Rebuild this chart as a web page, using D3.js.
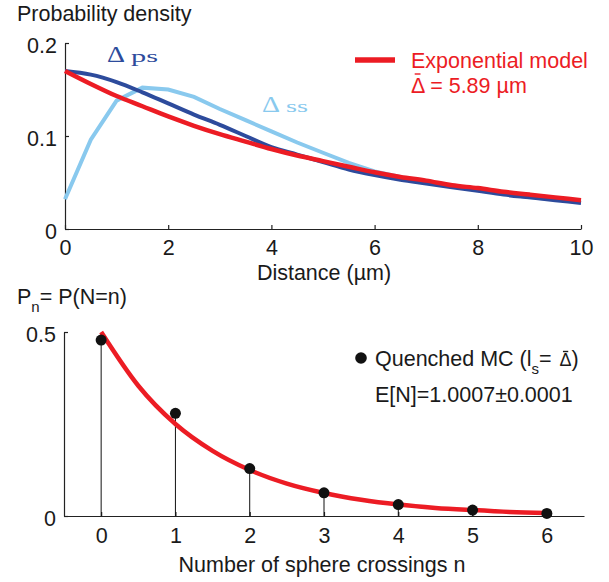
<!DOCTYPE html>
<html>
<head>
<meta charset="utf-8">
<script src="https://cdn.jsdelivr.net/npm/d3@7"></script>
<style>
  body { margin: 0; background: #fff; }
  text { font-family: "Liberation Sans", Arial, sans-serif; fill: #1a1a1a; }
</style>
</head>
<body>
<div id="chart"></div>
<script>

// top panel data
const distance = [0, 0.5, 1, 1.5, 2, 2.5, 3, 3.5, 4, 4.5, 5, 5.5, 6, 6.5, 7, 7.5, 8, 8.5, 9, 9.5, 10];
const psDensity = [0.170, 0.166, 0.158, 0.147, 0.135, 0.123, 0.112, 0.100, 0.088, 0.080, 0.072, 0.064, 0.058, 0.053, 0.049, 0.045, 0.041, 0.037, 0.034, 0.031, 0.028];
const ssDensity = [0.032, 0.096, 0.138, 0.152, 0.150, 0.142, 0.129, 0.117, 0.105, 0.093, 0.082, 0.071, 0.062, 0.056, 0.050, 0.046, 0.042, 0.038, 0.034, 0.032, 0.029];
const expDensity = [0.170, 0.156, 0.143, 0.132, 0.121, 0.111, 0.102, 0.094, 0.086, 0.079, 0.073, 0.067, 0.061, 0.056, 0.052, 0.047, 0.044, 0.040, 0.037, 0.034, 0.031];
const distTicks = [0, 2, 4, 6, 8, 10];
const densTicks = [0, 0.1, 0.2];

// bottom panel data
const crossings = [0, 1, 2, 3, 4, 5, 6];
const mcProb = [0.478, 0.279, 0.129, 0.063, 0.031, 0.016, 0.007];
const modelN = [0, 0.5, 1, 1.5, 2, 2.5, 3, 3.5, 4, 4.5, 5, 5.5, 6];
const modelP = [0.5, 0.354, 0.25, 0.177, 0.125, 0.088, 0.0625, 0.044, 0.031, 0.022, 0.016, 0.011, 0.008];
const probTicks = [0, 0.5];

const red = '#ec1c24', darkBlue = '#2d4b9c', lightBlue = '#89c9ee';
const fs = 21.5;

let svg = d3.select('#chart').append('svg')
    .attr('width', 609)
    .attr('height', 582);

// little bar over a character (the Delta with a bar)
function barOver(textSel, idx, barY, col) {
    let b = textSel.node().getExtentOfChar(idx);
    svg.append('line')
        .attr('x1', b.x + b.width * 0.28).attr('x2', b.x + b.width * 0.72)
        .attr('y1', barY).attr('y2', barY)
        .attr('stroke', col).attr('stroke-width', 1.4);
}

// ---- top panel ----
let x1 = d3.scaleLinear().domain([0, 10]).range([65, 581]);
let y1 = d3.scaleLinear().domain([0, 0.2]).range([229, 43]);

let topPanel = svg.append('g');

let xAx1 = topPanel.append('g')
    .attr('transform', `translate(0,${y1(0)})`)
    .call(d3.axisBottom(x1).tickValues(distTicks).tickFormat(d3.format('d'))
        .tickSizeInner(-4).tickSizeOuter(0).tickPadding(11));
let yAx1 = topPanel.append('g')
    .attr('transform', `translate(${x1(0)},0)`)
    .call(d3.axisLeft(y1).tickValues(densTicks).tickFormat(d => d === 0 ? '0' : d3.format('.1f')(d))
        .tickSizeInner(-4).tickSizeOuter(0).tickPadding(8));

[xAx1, yAx1].forEach(a => {
    a.selectAll('path, line').attr('stroke', '#222').attr('stroke-width', 1.2);
    a.selectAll('text').style('font-size', fs + 'px').attr('fill', '#1a1a1a');
});
yAx1.selectAll('text').attr('dy', '0.45em');

let line1 = (ys, curve) => d3.line()
    .curve(curve)
    .x((d, i) => x1(distance[i]))
    .y(d => y1(d))(ys);

topPanel.append('path').attr('d', line1(ssDensity, d3.curveLinear))
    .attr('fill', 'none').attr('stroke', lightBlue).attr('stroke-width', 4);
topPanel.append('path').attr('d', line1(psDensity, d3.curveMonotoneX))
    .attr('fill', 'none').attr('stroke', darkBlue).attr('stroke-width', 4);
topPanel.append('path').attr('d', line1(expDensity, d3.curveMonotoneX))
    .attr('fill', 'none').attr('stroke', red).attr('stroke-width', 4.5);

topPanel.append('text').attr('x', 17).attr('y', 21).style('font-size', fs + 'px').text('Probability density');
topPanel.append('text').attr('x', 324).attr('y', 280).attr('text-anchor', 'middle')
    .style('font-size', fs + 'px').text('Distance (\u00b5m)');

// curve labels (wide serif, like the original)
let lab = (x, y, sub, subW, col) => {
    topPanel.append('text').attr('x', x).attr('y', y)
        .style('font-family', '"Liberation Serif", "DejaVu Serif", serif')
        .style('font-size', '22.5px').style('fill', col)
        .attr('textLength', 18).attr('lengthAdjust', 'spacingAndGlyphs')
        .text('\u0394');
    topPanel.append('text').attr('x', x + 24).attr('y', y)
        .style('font-family', '"Liberation Serif", "DejaVu Serif", serif')
        .style('font-size', '17px').style('fill', col)
        .attr('textLength', subW).attr('lengthAdjust', 'spacingAndGlyphs')
        .text(sub);
};
lab(107, 62, 'ps', 27, darkBlue);
lab(262, 112, 'ss', 22, lightBlue);

// legend
topPanel.append('line').attr('x1', 355).attr('x2', 395).attr('y1', 60).attr('y2', 60)
    .attr('stroke', red).attr('stroke-width', 5.5);
topPanel.append('text').attr('x', 411).attr('y', 68).style('font-size', fs + 'px')
    .style('fill', red).text('Exponential model');
let meanTxt = topPanel.append('text').attr('x', 411).attr('y', 93).style('font-size', fs + 'px')
    .style('fill', red).text('\u0394 = 5.89 \u00b5m');
barOver(meanTxt, 0, 74, red);

// ---- bottom panel ----
let x2 = d3.scaleLinear().domain([-0.5, 6.5]).range([64, 584]);
let y2 = d3.scaleLinear().domain([0, 0.5]).range([516, 332]);

let botPanel = svg.append('g');

let xAx2 = botPanel.append('g')
    .attr('transform', `translate(0,${y2(0)})`)
    .call(d3.axisBottom(x2).tickValues(crossings).tickFormat(d3.format('d'))
        .tickSizeInner(-4).tickSizeOuter(0).tickPadding(12));
let yAx2 = botPanel.append('g')
    .attr('transform', `translate(${x2(-0.5)},0)`)
    .call(d3.axisLeft(y2).tickValues(probTicks).tickFormat(d => d === 0 ? '0' : d3.format('.1f')(d))
        .tickSizeInner(-4).tickSizeOuter(0).tickPadding(8));

[xAx2, yAx2].forEach(a => {
    a.selectAll('path, line').attr('stroke', '#222').attr('stroke-width', 1.2);
    a.selectAll('text').style('font-size', fs + 'px').attr('fill', '#1a1a1a');
});
yAx2.selectAll('text').attr('dy', '0.42em');

// stems
botPanel.selectAll('line.stem').data(mcProb).join('line')
    .attr('class', 'stem')
    .attr('x1', (d, i) => x2(crossings[i])).attr('x2', (d, i) => x2(crossings[i]))
    .attr('y1', y2(0)).attr('y2', d => y2(d))
    .attr('stroke', '#111').attr('stroke-width', 1);

botPanel.append('path')
    .attr('d', d3.line().curve(d3.curveMonotoneX)
        .x((d, i) => x2(modelN[i])).y(d => y2(d))(modelP))
    .attr('fill', 'none').attr('stroke', red).attr('stroke-width', 4.5);

botPanel.selectAll('circle.mc').data(mcProb).join('circle')
    .attr('class', 'mc')
    .attr('cx', (d, i) => x2(crossings[i])).attr('cy', d => y2(d))
    .attr('r', 5.5).attr('fill', '#111');

// labels
let pl = botPanel.append('text').attr('x', 17).attr('y', 304).style('font-size', fs + 'px');
pl.append('tspan').text('P');
pl.append('tspan').attr('dy', 8).style('font-size', '15px').text('n');
pl.append('tspan').attr('dy', -8).text('= P(N=n)');

botPanel.append('text').attr('x', 322).attr('y', 572).attr('text-anchor', 'middle')
    .style('font-size', fs + 'px').text('Number of sphere crossings n');

botPanel.append('circle').attr('cx', 361).attr('cy', 358).attr('r', 5.8).attr('fill', '#111');
let ql = botPanel.append('text').attr('x', 375).attr('y', 366).style('font-size', fs + 'px');
ql.append('tspan').text('Quenched MC (l');
ql.append('tspan').attr('dy', 8).style('font-size', '15px').text('s');
ql.append('tspan').attr('dy', -8).text('= ');
ql.append('tspan').attr('dx', 2).style('font-size', '18px').text('\u0394');
ql.append('tspan').text(')');
barOver(ql, 17, 351.5, '#1a1a1a');

botPanel.append('text').attr('x', 375).attr('y', 402).style('font-size', fs + 'px')
    .text('E[N]=1.0007\u00b10.0001');

</script>
</body>
</html>
